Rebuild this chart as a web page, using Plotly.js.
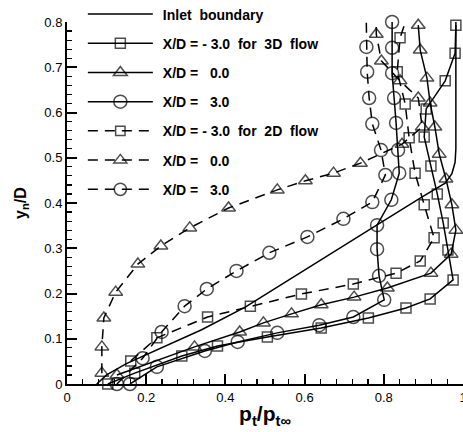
<!DOCTYPE html>
<html>
<head>
<meta charset="utf-8">
<script src="https://cdn.plot.ly/plotly-3.0.1.min.js"></script>
<style>
html,body{margin:0;padding:0;background:#fff;}
#chart{width:463px;height:432px;}
</style>
</head>
<body>
<div id="chart"></div>
<script>
// ---- data ----
var inletX = [0.075, 0.10, 0.15, 0.20, 0.28, 0.34, 0.45, 0.55, 0.67, 0.78, 0.90, 0.955, 0.972, 0.980, 0.982, 0.982];
var inletY = [0.000, 0.020, 0.045, 0.065, 0.097, 0.120, 0.170, 0.225, 0.290, 0.350, 0.415, 0.444, 0.465, 0.490, 0.520, 0.800];

var m3d_x = [0.103, 0.171, 0.290, 0.380, 0.506, 0.642, 0.761, 0.856, 0.917, 0.975, 0.962, 0.950, 0.935, 0.919, 0.902, 0.907, 0.955, 0.980, 0.982];
var m3d_y = [0.000, 0.024, 0.062, 0.084, 0.104, 0.124, 0.146, 0.168, 0.188, 0.230, 0.296, 0.356, 0.420, 0.482, 0.546, 0.608, 0.670, 0.731, 0.793];

var z3d_x = [0.126, 0.322, 0.436, 0.496, 0.567, 0.642, 0.725, 0.809, 0.919, 0.970, 0.982, 0.972, 0.957, 0.940, 0.929, 0.917, 0.909, 0.892, 0.887];
var z3d_y = [0.020, 0.082, 0.115, 0.135, 0.155, 0.175, 0.192, 0.212, 0.245, 0.287, 0.340, 0.396, 0.453, 0.508, 0.568, 0.621, 0.676, 0.738, 0.793];

var p3d_x = [0.159, 0.227, 0.348, 0.431, 0.531, 0.637, 0.723, 0.801, 0.788, 0.783, 0.783, 0.819, 0.839, 0.836, 0.831, 0.826, 0.821, 0.821, 0.821];
var p3d_y = [0.000, 0.038, 0.073, 0.093, 0.113, 0.130, 0.148, 0.186, 0.239, 0.298, 0.351, 0.407, 0.466, 0.517, 0.577, 0.632, 0.687, 0.743, 0.800];

var m2d_x = [0.161, 0.227, 0.355, 0.463, 0.592, 0.723, 0.831, 0.892, 0.927, 0.902, 0.879, 0.864, 0.854, 0.834, 0.841, 0.870];
var m2d_y = [0.051, 0.102, 0.148, 0.172, 0.199, 0.221, 0.245, 0.272, 0.323, 0.396, 0.466, 0.544, 0.619, 0.690, 0.765, 0.840];

var z2d_x = [0.088, 0.088, 0.093, 0.123, 0.179, 0.237, 0.310, 0.408, 0.531, 0.602, 0.673, 0.741, 0.846, 0.897, 0.887, 0.841, 0.794, 0.781, 0.780];
var z2d_y = [0.024, 0.082, 0.146, 0.203, 0.265, 0.305, 0.345, 0.389, 0.429, 0.449, 0.466, 0.488, 0.530, 0.568, 0.632, 0.670, 0.714, 0.773, 0.840];

var p2d_x = [0.126, 0.191, 0.239, 0.297, 0.353, 0.428, 0.511, 0.607, 0.698, 0.771, 0.804, 0.793, 0.771, 0.763, 0.758, 0.756, 0.755];
var p2d_y = [0.000, 0.057, 0.115, 0.172, 0.210, 0.250, 0.290, 0.325, 0.365, 0.402, 0.462, 0.517, 0.575, 0.632, 0.690, 0.745, 0.840];

var seriesNames = [
  'Inlet\u00a0\u00a0boundary',
  'X/D = - 3.0\u00a0\u00a0for\u00a0\u00a03D\u00a0\u00a0flow',
  'X/D =\u00a0\u00a0\u00a00.0',
  'X/D =\u00a0\u00a0\u00a03.0',
  'X/D = - 3.0\u00a0\u00a0for\u00a0\u00a02D\u00a0\u00a0flow',
  'X/D =\u00a0\u00a0\u00a00.0',
  'X/D =\u00a0\u00a0\u00a03.0'
];
var xTitle = 'p<sub>t</sub>/p<sub>t\u221e</sub>';
var yTitle = 'y<sub>n</sub>/D';

// ---- build traces ----
var YMAX = 0.8;
function sizes(ys, s){ return ys.map(function(v){ return v > YMAX + 0.005 ? 0 : s; }); }

var DASH = '10px,7px';
function mk(i, xs, ys, sym, sz, dash){
  var t = {
    type:'scatter', mode: sym ? 'lines+markers' : 'lines',
    x: xs, y: ys, name: seriesNames[i], legendgroup: 'g'+i,
    line: {color:'#000', width:1.5, dash: dash || 'solid'},
    cliponaxis: false
  };
  if (sym) t.marker = {symbol: sym, size: sizes(ys, sz), color:'#000', line:{color:'#000', width:1.5}};
  return t;
}

var traces = [
  mk(0, inletX, inletY, null),
  mk(1, m3d_x, m3d_y, 'square-open', 10),
  mk(2, z3d_x, z3d_y, 'triangle-up-open', 12),
  mk(3, p3d_x, p3d_y, 'circle-open', 13),
  mk(4, m2d_x, m2d_y, 'square-open', 10, DASH),
  mk(5, z2d_x, z2d_y, 'triangle-up-open', 12, DASH),
  mk(6, p2d_x, p2d_y, 'circle-open', 13, DASH)
];

var FONT = 'Liberation Sans, Arial, Helvetica, sans-serif';
var layout = {
  width: 463, height: 432,
  margin: {l:67, r:0, t:22, b:48, autoexpand:false},
  paper_bgcolor:'#fff', plot_bgcolor:'#fff',
  font: {family: FONT, color:'#000', size:13},
  showlegend: true,
  legend: {
    x: 0.04, y: 1.065, xanchor:'left', yanchor:'top',
    bgcolor:'rgba(0,0,0,0)', borderwidth:0,
    font: {family: FONT, size:14, weight:'bold', color:'#000'},
    itemwidth: 70, tracegroupgap: 8, traceorder:'grouped',
    itemsizing:'trace'
  },
  xaxis: {
    range:[0,1], showgrid:false, zeroline:false,
    showline:true, linecolor:'#000', linewidth:2,
    ticks:'inside', ticklen:10, tickwidth:2, tickcolor:'#000',
    dtick:0.2, tick0:0, ticklabeloverflow:'allow',
    minor:{ticks:'inside', ticklen:5, tickwidth:1.2, tickcolor:'#000', dtick:0.04, showgrid:false},
    tickfont:{family:FONT, size:13, color:'#000'},
    title:{text: xTitle, font:{family:FONT, size:21, weight:'bold', color:'#000'}, standoff:3}
  },
  yaxis: {
    range:[0,0.8], showgrid:false, zeroline:false,
    showline:true, linecolor:'#000', linewidth:2,
    ticks:'inside', ticklen:10, tickwidth:2, tickcolor:'#000',
    dtick:0.1, tick0:0,
    minor:{ticks:'inside', ticklen:5, tickwidth:1.2, tickcolor:'#000', dtick:0.02, showgrid:false},
    tickfont:{family:FONT, size:13, color:'#000'},
    title:{text: yTitle, font:{family:FONT, size:16, weight:'bold', color:'#000'}, standoff:14}
  }
};

Plotly.newPlot('chart', traces, layout, {staticPlot:true, displayModeBar:false}).then(function(gd){
  // lengthen the legend samples to match the reference
  gd.querySelectorAll('.legend .traces').forEach(function(it){
    it.querySelectorAll('.legendlines path').forEach(function(p){ p.setAttribute('d','M5,0h65'); });
    it.querySelectorAll('.legendpoints path.scatterpts').forEach(function(p){ p.setAttribute('transform','translate(37.5,0)'); });
  });
});
</script>
</body>
</html>
